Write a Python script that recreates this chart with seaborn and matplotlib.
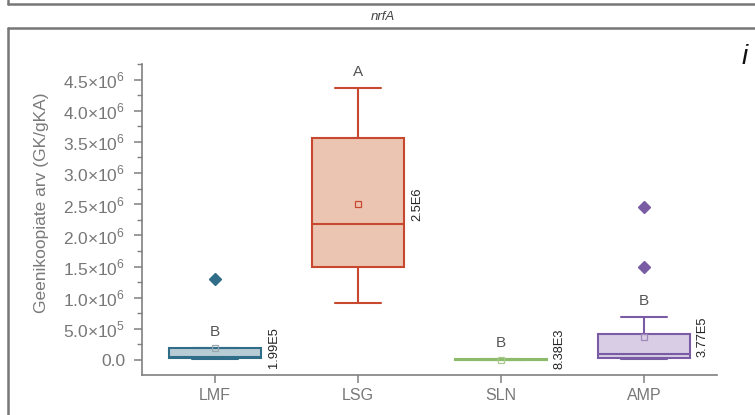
import matplotlib
matplotlib.use("Agg")
import matplotlib.pyplot as plt
from matplotlib.lines import Line2D
from matplotlib.ticker import MultipleLocator, FuncFormatter
import numpy as np
import pandas as pd
import seaborn as sns

# Sample types
categories = ["LMF", "LSG", "SLN", "AMP"]

# Gene copy numbers per sample type (GK/gKA)
lmf_values = [0.02e6, 0.04e6, 0.05e6, 0.19e6, 1.30e6]
lsg_values = [0.92e6, 1.50e6, 2.19e6, 3.57e6, 4.37e6]
sln_values = [0.002e6, 0.006e6, 0.008e6, 0.010e6, 0.015e6]
amp_values = [0.01e6, 0.02e6, 0.025e6, 0.03e6, 0.05e6, 0.08e6, 0.10e6,
              0.20e6, 0.35e6, 0.42e6, 0.69e6, 1.49e6, 2.45e6]

# Group means shown next to each box
means = [1.99e5, 2.5e6, 8.38e3, 3.77e5]
mean_labels = ["1.99E5", "2.5E6", "8.38E3", "3.77E5"]

# Significance letters
letters = ["B", "A", "B", "B"]

edge_colors = ["#2f6d89", "#c8482f", "#8cbb6b", "#7a5ca4"]
fill_colors = ["#b8ccd5", "#ecc5b2", "#cfe3bf", "#d8cde4"]
mean_colors = ["#9aa7ad", "#c8482f", "#a9c98f", "#9e8ab8"]

groups = [lmf_values, lsg_values, sln_values, amp_values]
df = pd.DataFrame({
    "group": np.repeat(categories, [len(g) for g in groups]),
    "value": np.concatenate(groups),
})

sns.set_theme(style="white")
plt.rcParams["font.family"] = ["Liberation Sans", "DejaVu Sans"]
plt.rcParams["mathtext.fontset"] = "custom"
plt.rcParams["mathtext.rm"] = "Liberation Sans"

fig = plt.figure(figsize=(7.55, 4.15), dpi=100)
ax = fig.add_axes([142 / 755, 40 / 415, 575 / 755, 311 / 415])

for i, cat in enumerate(categories):
    sub = df[df["group"] == cat]
    sns.boxplot(
        data=sub, x="group", y="value", order=categories, ax=ax,
        color=fill_colors[i], linecolor=edge_colors[i], saturation=1,
        width=0.64, linewidth=1.5, whis=1.5,
        flierprops=dict(marker="D", markerfacecolor=edge_colors[i],
                        markeredgecolor=edge_colors[i], markersize=6.5),
    )

# Mean markers, value labels and letters
for i, cat in enumerate(categories):
    vals = np.sort(np.asarray(groups[i]))
    q1, q3 = np.percentile(vals, [25, 75])
    fence = q3 + 1.5 * (q3 - q1)
    top = vals[vals <= fence].max()
    ax.plot(i, means[i], marker="s", markersize=4.5, markerfacecolor="none",
            markeredgecolor=mean_colors[i], markeredgewidth=0.9, zorder=5)
    label_y = max(means[i], 0.18e6)
    ax.text(i + 0.37, label_y, mean_labels[i], rotation=90, ha="left",
            va="center", fontsize=9.3, color="#222222")
    ax.annotate(letters[i], (i, top), xytext=(0, 6.5), textcoords="offset points",
                ha="center", va="bottom", fontsize=11, color="#555555")

ax.set_xlim(-0.51, 3.51)
ax.set_ylim(-0.24e6, 4.75e6)

def sci_fmt(v, pos):
    if abs(v) < 1:
        return "0.0"
    exp = int(np.floor(np.log10(abs(v))))
    mant = v / 10 ** exp
    return r"%.1f$\times$10$^{%d}$" % (mant, exp)

ax.yaxis.set_major_locator(MultipleLocator(0.5e6))
ax.yaxis.set_minor_locator(MultipleLocator(0.25e6))
ax.yaxis.set_major_formatter(FuncFormatter(sci_fmt))

ax.set_xlabel("")
ax.set_ylabel("Geenikoopiate arv (GK/gKA)", fontsize=12.5, color="#7a7a7a", labelpad=10)
ax.yaxis.label.set_y(0.555)

for side in ["top", "right"]:
    ax.spines[side].set_visible(False)
for side in ["left", "bottom"]:
    ax.spines[side].set_color("#808080")
    ax.spines[side].set_linewidth(1.2)

ax.tick_params(axis="y", which="major", direction="out", length=6, width=1.1,
               color="#808080", labelsize=12.5, labelcolor="#777777", left=True, pad=6)
ax.tick_params(axis="y", which="minor", direction="out", length=3.5, width=1.0,
               color="#808080", left=True)
ax.tick_params(axis="x", direction="out", length=6, width=1.1, color="#808080",
               labelsize=11.5, labelcolor="#777777", bottom=True, pad=3.5)

# Panel frame and heading
fig.add_artist(Line2D([8 / 755, 1], [1 - 4 / 415, 1 - 4 / 415], color="#777777", lw=1.8))
fig.add_artist(Line2D([8 / 755, 8 / 755], [1 - 4 / 415, 1], color="#777777", lw=1.8))
fig.add_artist(Line2D([8 / 755, 1], [1 - 28 / 415, 1 - 28 / 415], color="#777777", lw=1.8))
fig.add_artist(Line2D([8 / 755, 8 / 755], [0, 1 - 28 / 415], color="#777777", lw=1.8))
fig.text(383 / 755, 1 - 17 / 415, "nrfA", ha="center", va="center",
         fontsize=9.5, style="italic", color="#444444")
fig.text(745 / 755, 1 - 57 / 415, "i", ha="center", va="center",
         fontsize=20, style="italic", color="#111111")

fig.savefig("out.png", dpi=100)
